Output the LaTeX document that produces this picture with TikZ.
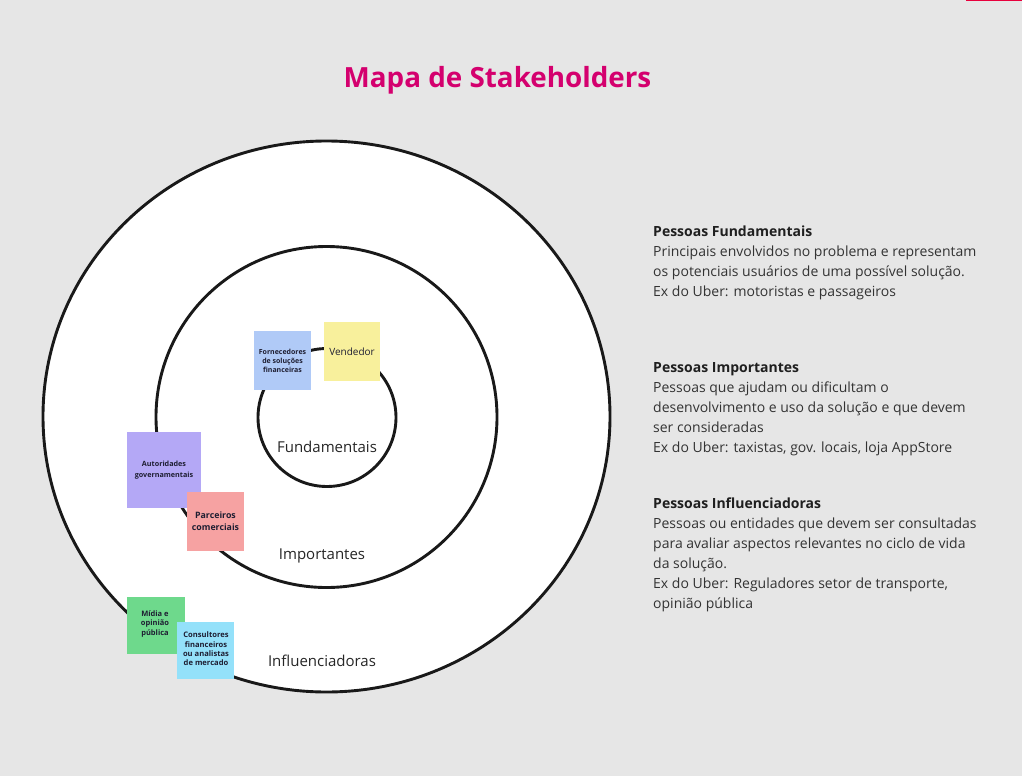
\documentclass[tikz,border=0pt]{standalone}
\usepackage{fontspec}
\setmainfont{Open Sans}
\definecolor{titlepink}{RGB}{212,0,110}
\definecolor{topbar}{RGB}{232,0,61}
\definecolor{canvas}{RGB}{230,230,230}
\definecolor{noteblue}{RGB}{176,202,247}
\definecolor{noteyellow}{RGB}{248,240,156}
\definecolor{notepurple}{RGB}{180,168,246}
\definecolor{notepink}{RGB}{246,162,162}
\definecolor{notegreen}{RGB}{110,217,140}
\definecolor{notecyan}{RGB}{148,225,250}
\definecolor{notetext}{RGB}{30,30,50}
\begin{document}
\begin{tikzpicture}[x=1pt,y=-1pt,
  ring/.style={draw=black!90, line width=2.9pt, fill=white},
  ringlabel/.style={font=\fontsize{15}{17}\selectfont, text=black!85, inner sep=0pt},
  note/.style={inner sep=0pt, outer sep=0pt, text=notetext, align=center,
    font=\bfseries\fontsize{7}{9.3}\selectfont},
  head/.style={font=\bfseries\fontsize{14}{20}\selectfont, text=black!88, inner sep=0pt, anchor=base west},
  body/.style={font=\fontsize{14}{20}\selectfont, text=black!80, inner sep=0pt, anchor=base west}]
% canvas
\fill[canvas] (0,0) rectangle (1022,776);
\useasboundingbox (0,0) rectangle (1022,776);
\fill[topbar] (966,0) rectangle (1022,1.5);

% title
\node[font=\bfseries\fontsize{27.8}{30}\selectfont, text=titlepink, anchor=base, inner sep=0pt]
  (title) at (497.5,87) {Mapa de Stakeholders};

% concentric rings
\draw[ring] (326.5,416.5) ellipse [x radius=283.5pt, y radius=275.5pt];
\draw[ring] (326.5,417) circle [radius=170.5pt];
\draw[ring] (327,417.5) circle [radius=69pt];
\node[ringlabel] (lfund) at (327,447) {Fundamentais};
\node[ringlabel] (limp) at (322,556) {Importantes};
\node[ringlabel] (linf) at (322,661) {Influenciadoras};

% sticky notes
\fill[noteblue] (254,331) rectangle (311,390);
\node[note] (forn) at (282.5,361) {Fornecedores\\de soluções\\financeiras};
\fill[noteyellow] (324,322) rectangle (380,381);
\node[note, font=\fontsize{10}{11}\selectfont] (vend) at (352,351.5) {Vendedor};

\fill[notepurple] (127,432) rectangle (201,508);
\node[note, font=\bfseries\fontsize{7.2}{11}\selectfont] (aut) at (164,470.5) {Autoridades\\governamentais};
\fill[notepink] (187,492) rectangle (244,551);
\node[note, font=\bfseries\fontsize{8.8}{11.7}\selectfont] (parc) at (215.5,521) {Parceiros\\comerciais};

\fill[notegreen] (127,597) rectangle (185,654);
\node[note, font=\bfseries\fontsize{7.5}{9.2}\selectfont] (midia) at (155,624) {Mídia e\\opinião\\pública};
\fill[notecyan] (177,622) rectangle (234,679);
\node[note, font=\bfseries\fontsize{7.6}{9.3}\selectfont] (cons) at (206,649) {Consultores\\financeiros\\ou analistas\\de mercado};

% legend text
\node[head] (h1) at (653,236) {Pessoas Fundamentais};
\node[body] (b11) at (653,256) {Principais envolvidos no problema e representam};
\node[body] (b12) at (653,276) {os potenciais usuários de uma possível solução.};
\node[body] (b13) at (653,296) {Ex do Uber: motoristas e passageiros};

\node[head] (h2) at (653,372) {Pessoas Importantes};
\node[body] (b21) at (653,392) {Pessoas que ajudam ou dificultam o};
\node[body] (b22) at (653,412) {desenvolvimento e uso da solução e que devem};
\node[body] (b23) at (653,432) {ser consideradas};
\node[body] (b24) at (653,452) {Ex do Uber: taxistas, gov. locais, loja AppStore};

\node[head] (h3) at (653,508) {Pessoas Influenciadoras};
\node[body] (b31) at (653,528) {Pessoas ou entidades que devem ser consultadas};
\node[body] (b32) at (653,548) {para avaliar aspectos relevantes no ciclo de vida};
\node[body] (b33) at (653,568) {da solução.};
\node[body] (b34) at (653,588) {Ex do Uber: Reguladores setor de transporte,};
\node[body] (b35) at (653,608) {opinião pública};
\end{tikzpicture}
\end{document}
